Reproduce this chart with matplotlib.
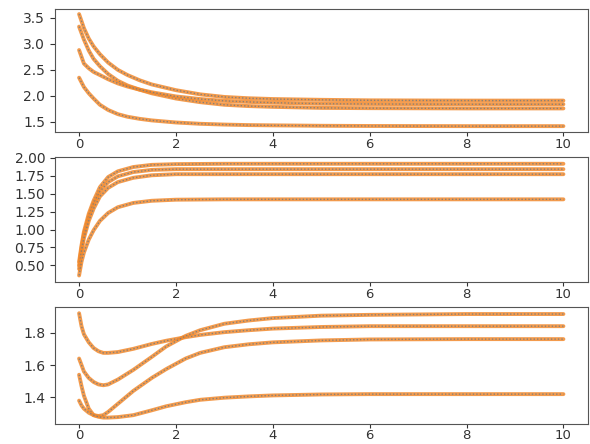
import matplotlib
matplotlib.use("Agg")
import matplotlib.pyplot as plt

# ---- Panel 1 (decaying curves) ----
t1 = [0, 0.1, 0.2, 0.3, 0.43, 0.6, 0.8, 1, 1.25, 1.5, 2, 2.5, 3, 3.5, 4, 5, 6, 8, 10]
p1_a = [3.57, 3.30, 3.10, 2.95, 2.80, 2.64, 2.50, 2.40, 2.30, 2.22, 2.11, 2.03, 1.98, 1.955, 1.94, 1.925, 1.915, 1.91, 1.91]
p1_b = [3.33, 3.08, 2.87, 2.71, 2.57, 2.42, 2.29, 2.20, 2.12, 2.05, 1.95, 1.88, 1.83, 1.805, 1.79, 1.77, 1.765, 1.76, 1.76]
p1_c = [2.88, 2.62, 2.53, 2.46, 2.40, 2.32, 2.24, 2.18, 2.12, 2.07, 1.99, 1.94, 1.905, 1.885, 1.87, 1.85, 1.845, 1.84, 1.84]
p1_d = [2.35, 2.17, 2.05, 1.95, 1.83, 1.73, 1.65, 1.60, 1.56, 1.53, 1.49, 1.465, 1.45, 1.44, 1.435, 1.427, 1.423, 1.42, 1.42]

# ---- Panel 2 (rising curves) ----
t2 = [0, 0.05, 0.1, 0.2, 0.3, 0.43, 0.6, 0.8, 1.12, 1.5, 2, 3, 10]
p2_a = [0.55, 0.78, 0.97, 1.22, 1.40, 1.59, 1.73, 1.81, 1.87, 1.90, 1.91, 1.915, 1.915]
p2_b = [0.50, 0.74, 0.93, 1.18, 1.36, 1.53, 1.66, 1.74, 1.80, 1.83, 1.84, 1.84, 1.84]
p2_c = [0.45, 0.70, 0.88, 1.12, 1.29, 1.46, 1.58, 1.66, 1.72, 1.755, 1.77, 1.77, 1.77]
p2_d = [0.36, 0.55, 0.68, 0.86, 0.99, 1.12, 1.23, 1.31, 1.37, 1.40, 1.415, 1.42, 1.42]

# ---- Panel 3 (dip then rise) ----
t3 = [0, 0.05, 0.1, 0.2, 0.3, 0.4, 0.5, 0.6, 0.8, 1.12, 1.5, 1.8, 2.2, 2.5, 3, 3.5, 4, 5, 6, 8, 10]
p3_a = [1.92, 1.84, 1.79, 1.74, 1.705, 1.685, 1.675, 1.675, 1.68, 1.70, 1.73, 1.75, 1.772, 1.786, 1.803, 1.815, 1.825, 1.835, 1.84, 1.84, 1.84]
p3_b = [1.64, 1.60, 1.56, 1.52, 1.495, 1.48, 1.475, 1.48, 1.51, 1.57, 1.65, 1.715, 1.78, 1.815, 1.855, 1.875, 1.89, 1.905, 1.91, 1.915, 1.915]
p3_c = [1.54, 1.47, 1.41, 1.33, 1.29, 1.285, 1.29, 1.31, 1.36, 1.44, 1.52, 1.575, 1.64, 1.675, 1.71, 1.728, 1.74, 1.752, 1.758, 1.76, 1.76]
p3_d = [1.38, 1.35, 1.33, 1.305, 1.29, 1.28, 1.275, 1.275, 1.278, 1.29, 1.32, 1.345, 1.37, 1.385, 1.398, 1.406, 1.412, 1.418, 1.42, 1.42, 1.42]

panels = [
    (t1, [p1_a, p1_b, p1_c, p1_d], [1.5, 2.0, 2.5, 3.0, 3.5], ["1.5", "2.0", "2.5", "3.0", "3.5"]),
    (t2, [p2_a, p2_b, p2_c, p2_d], [0.5, 0.75, 1.0, 1.25, 1.5, 1.75, 2.0],
     ["0.50", "0.75", "1.00", "1.25", "1.50", "1.75", "2.00"]),
    (t3, [p3_a, p3_b, p3_c, p3_d], [1.4, 1.6, 1.8], ["1.4", "1.6", "1.8"]),
]
xticks = [0, 2, 4, 6, 8, 10]
xticklabels = ["0", "2", "4", "6", "8", "10"]

fig = plt.figure(figsize=(5.9, 4.44), dpi=100)
rects = [
    [0.093, 0.703, 0.903, 0.277],
    [0.093, 0.365, 0.903, 0.2815],
    [0.093, 0.046, 0.903, 0.262],
]
orange = "#f28a2e"
gray = "#7d7d7d"
for rect, (t, series, yt, ytl) in zip(rects, panels):
    ax = fig.add_axes(rect)
    for s in series:
        ax.plot(t, s, color=orange, lw=2.8, alpha=0.85, solid_capstyle="round")
        ax.plot(t, s, color=gray, lw=1.0, ls=(0, (1, 1.5)), alpha=0.9)
    ax.set_xlim(-0.5, 10.5)
    ax.set_xticks(xticks)
    ax.set_xticklabels(xticklabels)
    ax.set_yticks(yt)
    ax.set_yticklabels(ytl)
    ax.tick_params(labelsize=10, colors="#333333")
    ax.tick_params(axis="x", labelsize=9.5, pad=1.2, length=3)
    for sp in ax.spines.values():
        sp.set_color("#555555")

fig.axes[0].set_ylim(1.31, 3.67)
fig.axes[1].set_ylim(0.27, 2.01)
fig.axes[2].set_ylim(1.238, 1.957)

fig.savefig("out.png", dpi=100)
